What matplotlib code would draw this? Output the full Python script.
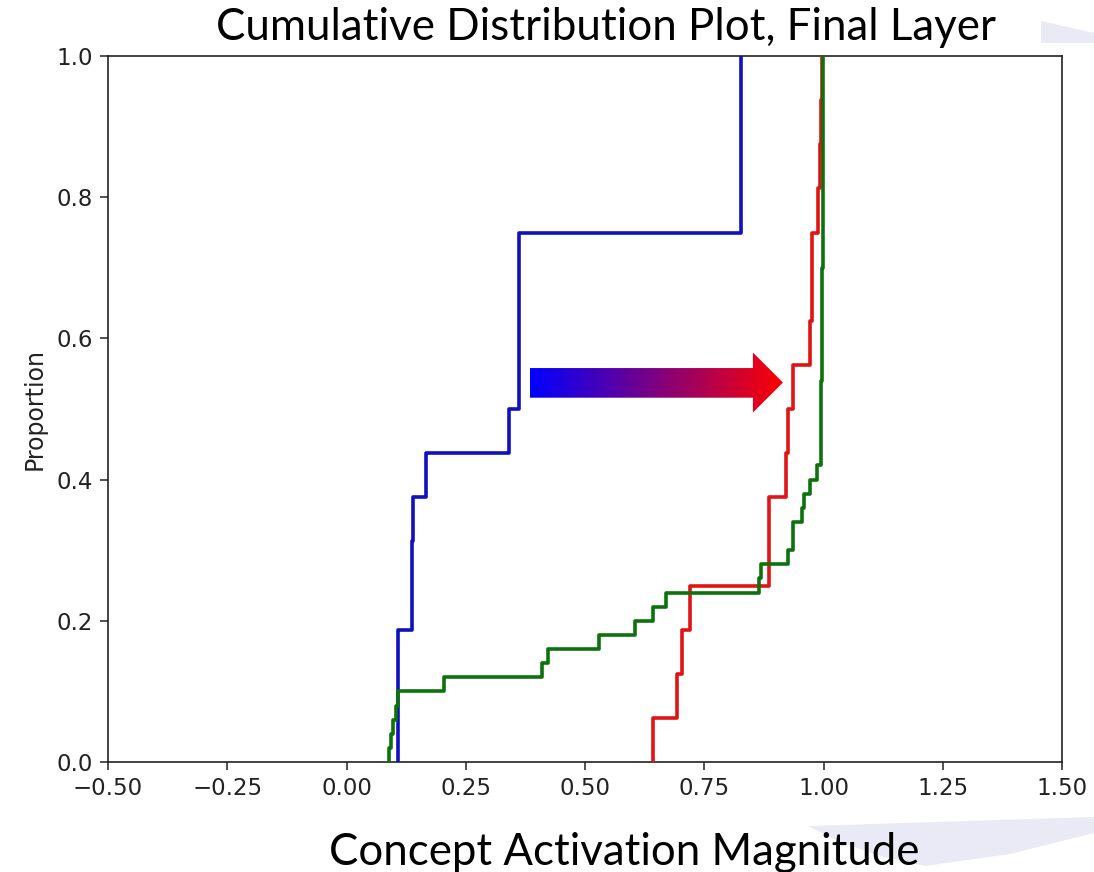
import numpy as np
import matplotlib
matplotlib.use("Agg")
import matplotlib.pyplot as plt
from matplotlib.patches import Polygon

# ---------------- data ----------------
blue_values = [0.108, 0.108, 0.108, 0.138, 0.138, 0.140, 0.166, 0.341,
               0.361, 0.361, 0.361, 0.361, 0.828, 0.828, 0.828, 0.828]
red_values = [0.643, 0.693, 0.704, 0.721, 0.886, 0.886, 0.921, 0.925,
              0.936, 0.971, 0.975, 0.975, 0.989, 0.993, 0.994, 0.997]
green_values = [0.090, 0.094, 0.098, 0.104, 0.108, 0.204, 0.410, 0.422,
                0.530, 0.605, 0.642, 0.670, 0.864, 0.868, 0.926, 0.936,
                0.937, 0.954, 0.960, 0.971, 0.987,
                0.994, 0.994, 0.994, 0.994, 0.994, 0.994,
                0.997, 0.997, 0.997, 0.997, 0.997, 0.997, 0.997, 0.997,
                0.998, 0.998, 0.998, 0.998, 0.998, 0.998, 0.998, 0.998,
                0.999, 0.999, 0.999, 0.999, 0.999, 0.999, 0.999]
x_ticks = [-0.50, -0.25, 0.00, 0.25, 0.50, 0.75, 1.00, 1.25, 1.50]
y_ticks = [0.0, 0.2, 0.4, 0.6, 0.8, 1.0]
title_text = "Cumulative Distribution Plot, Final Layer"
xlabel_text = "Concept Activation Magnitude"
ylabel_text = "Proportion"

W, H = 1094, 872
fig = plt.figure(figsize=(W / 100, H / 100), dpi=100)
ax = fig.add_axes([108 / W, 1 - 762 / H, (1062 - 108) / W, (762 - 56) / H])

def ecdf(ax, vals, color):
    x = np.sort(np.asarray(vals, dtype=float))
    n = len(x)
    y = np.arange(1, n + 1) / n
    ax.step(np.r_[x[0], x], np.r_[0.0, y], where="post", color=color,
            lw=2.6, zorder=3)

ecdf(ax, blue_values, "#1010c0")
ecdf(ax, red_values, "#e01414")
ecdf(ax, green_values, "#0c720c")

ax.set_xlim(-0.5, 1.5)
ax.set_ylim(0, 1)
ax.set_xticks(x_ticks)
ax.set_yticks(y_ticks)
ax.set_xticklabels([f"{v:.2f}".replace("-", "\u2212") for v in x_ticks])
ax.set_yticklabels([f"{v:.1f}" for v in y_ticks])
ax.tick_params(labelsize=16.5, length=6, width=1.1, color="#222222",
               labelcolor="#222222", pad=5)
for s in ax.spines.values():
    s.set_linewidth(1.2)
    s.set_color("#222222")
ax.set_ylabel(ylabel_text, fontsize=17, color="#222222", labelpad=7)

# gradient arrow (annotation)
shaft_x0, head_x0, tip_x = 0.384, 0.852, 0.915
shaft_y0, shaft_y1 = 0.516, 0.558
head_y0, head_y1 = 0.495, 0.580
ymid = (head_y0 + head_y1) / 2
arrow_pts = [(shaft_x0, shaft_y0), (head_x0, shaft_y0), (head_x0, head_y0),
             (tip_x, ymid), (head_x0, head_y1), (head_x0, shaft_y1),
             (shaft_x0, shaft_y1)]
poly = Polygon(arrow_pts, closed=True, facecolor="none", edgecolor="none",
               transform=ax.transData)
ax.add_patch(poly)
t = np.linspace(0, 1, 256)
grad = np.zeros((2, 256, 3))
grad[:, :, 0] = t
grad[:, :, 2] = 1 - t
im = ax.imshow(grad, extent=[shaft_x0, tip_x, head_y0, head_y1],
               aspect="auto", interpolation="bilinear", zorder=4)
im.set_clip_path(poly)

# decorative background shapes (figure coords, pixels)
def figpoly(pts, color):
    p = Polygon([(x / W, 1 - y / H) for x, y in pts], closed=True,
                facecolor=color, edgecolor="none", transform=fig.transFigure,
                zorder=-5)
    fig.patches.append(p)

figpoly([(1041, 21), (1094, 33), (1094, 43), (1041, 43)], "#eaeaf6")
figpoly([(808, 826), (1094, 817), (1094, 833), (1010, 854), (925, 866),
         (880, 856), (840, 842)], "#eaeaf6")

# title and big x label, fitted to reference widths
fig.canvas.draw()
renderer = fig.canvas.get_renderer()

def fitted_text(s, xc, ybase, width_px, guess=30):
    txt = fig.text(xc / W, 1 - ybase / H, s, ha="center", va="baseline",
                   fontsize=guess, family=["Lato", "DejaVu Sans"],
                   color="black")
    bb = txt.get_window_extent(renderer)
    txt.set_fontsize(guess * width_px / bb.width)
    return txt

fitted_text(title_text, 606, 40, 778)
fitted_text(xlabel_text, 624, 865, 588)

fig.savefig("out.png", dpi=100)
